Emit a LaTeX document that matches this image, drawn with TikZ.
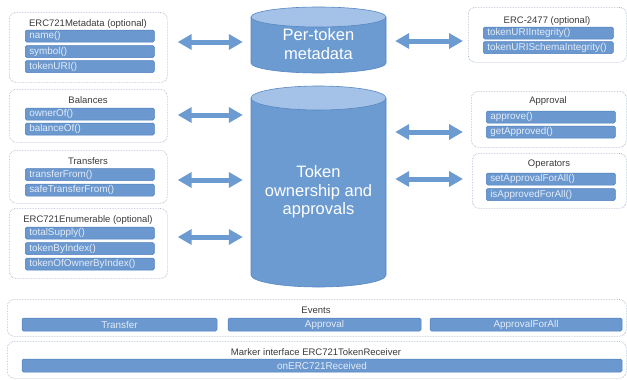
\documentclass[tikz,border=0pt]{standalone}
\usepackage{fontspec}
\setmainfont{Liberation Sans}
\usetikzlibrary{arrows.meta}
\definecolor{barfill}{HTML}{6A98CF}
\definecolor{barline}{HTML}{4E7FBD}
\definecolor{bartext}{HTML}{E4ECF7}
\definecolor{cylbody}{HTML}{6C9BD2}
\definecolor{cyltop}{HTML}{A4C2E8}
\definecolor{cylline}{HTML}{5787C2}
\definecolor{ttltext}{HTML}{3A3A3A}
\definecolor{grpline}{HTML}{9FAFC6}
\definecolor{arrowfill}{HTML}{6B9BD1}
\begin{document}
\begin{tikzpicture}[x=1pt,y=-1pt,
 grp/.style={draw=grpline, line width=0.7pt, dash pattern=on 0.6pt off 1pt, rounded corners=7pt, anchor=north west, inner sep=0pt},
 ttl/.style={font=\fontsize{9.5}{11}\selectfont, text=ttltext, inner sep=0pt},
 bar/.style={draw=barline, fill=barfill, line width=0.5pt, rounded corners=1.5pt, minimum height=12pt, inner ysep=0pt, text=bartext, font=\fontsize{9.9}{11}\selectfont},
 barl/.style={bar, anchor=west, text width=#1, align=left, inner xsep=4pt},
 barc/.style={bar, minimum width=#1, minimum height=13pt, inner xsep=0pt},
 cyltxt/.style={text=white, align=center, font=\fontsize{16.5}{18.5}\selectfont, inner sep=0pt},
 barrow/.style={line width=5pt, draw=arrowfill, {Triangle[length=14pt,width=15pt]}-{Triangle[length=14pt,width=15pt]}},
 ]
\useasboundingbox (0,0) rectangle (627,380);

% ---- left groups ----
\node[grp, minimum width=158pt, minimum height=70pt] (gmeta) at (9,12) {};
\node[ttl] (tmeta) at (88,24) {ERC721Metadata (optional)};
\node[barl=121pt] (bname) at (25,36) {name()};
\node[barl=121pt] (bsymbol) at (25,51.5) {symbol()};
\node[barl=121pt] (buri) at (25,66.5) {tokenURI()};

\node[grp, minimum width=158pt, minimum height=53pt] (gbal) at (9,89) {};
\node[ttl] (tbal) at (88,100) {Balances};
\node[barl=121pt] (bowner) at (25,114) {ownerOf()};
\node[barl=121pt] (bbalance) at (25,129) {balanceOf()};

\node[grp, minimum width=158pt, minimum height=53pt] (gtrans) at (9,150) {};
\node[ttl] (ttrans) at (88,161) {Transfers};
\node[barl=121pt] (btf) at (25,174.5) {transferFrom()};
\node[barl=121pt] (bstf) at (25,190) {safeTransferFrom()};

\node[grp, minimum width=158pt, minimum height=70pt] (genum) at (9,208) {};
\node[ttl] (tenum) at (88,220) {ERC721Enumerable (optional)};
\node[barl=121pt] (bts) at (25,233) {totalSupply()};
\node[barl=121pt] (btbi) at (25,248.5) {tokenByIndex()};
\node[barl=121pt] (btobi) at (25,264) {tokenOfOwnerByIndex()};

% ---- right groups ----
\node[grp, minimum width=158pt, minimum height=55pt] (gerc) at (468,7) {};
\node[ttl] (terc) at (547,21) {ERC-2477 (optional)};
\node[barl=122pt] (bui) at (483,33) {tokenURIIntegrity()};
\node[barl=122pt] (busi) at (483,47.5) {tokenURISchemaIntegrity()};

\node[grp, minimum width=155pt, minimum height=56pt] (gappr) at (471,91) {};
\node[ttl] (tappr) at (548,101) {Approval};
\node[barl=121pt] (bapprove) at (486,117) {approve()};
\node[barl=121pt] (bgetappr) at (486,132) {getApproved()};

\node[grp, minimum width=154pt, minimum height=55pt] (gops) at (472,153) {};
\node[ttl] (tops) at (549,164) {Operators};
\node[barl=121pt] (bsafa) at (486,179) {setApprovalForAll()};
\node[barl=121pt] (biafa) at (486,194.5) {isApprovedForAll()};

% ---- bottom groups ----
\node[grp, minimum width=619pt, minimum height=37pt] (gevents) at (7,299) {};
\node[ttl] (tevents) at (316,310) {Events};
\node[barc=195pt] (etransfer) at (119.5,324.5) {Transfer};
\node[barc=193pt] (eapproval) at (324.5,324.5) {Approval};
\node[barc=192pt] (eapprall) at (526,324.5) {ApprovalForAll};

\node[grp, minimum width=619pt, minimum height=37pt] (gmarker) at (7,341) {};
\node[ttl] (tmarker) at (316,352) {Marker interface ERC721TokenReceiver};
\node[barc=600pt] (brecv) at (322,365.5) {onERC721Received};

% ---- cylinders ----
\fill[cylbody] (251,17) -- (251,63) arc[start angle=180, end angle=0, x radius=67.5, y radius=10] -- (386,17) -- cycle;
\draw[cylline, line width=0.6pt] (251,17) -- (251,63) arc[start angle=180, end angle=0, x radius=67.5, y radius=10] -- (386,17);
\draw[cylline, line width=0.6pt, fill=cyltop] (318.5,17) ellipse [x radius=67.5, y radius=10];
\node[minimum width=135pt, minimum height=66pt, inner sep=0pt] (cyl1) at (318.5,40) {};
\node[cyltxt] (cyl1t) at (318.5,44) {Per-token\\metadata};

\fill[cylbody] (251,98) -- (251,275) arc[start angle=180, end angle=0, x radius=67.5, y radius=12] -- (386,98) -- cycle;
\draw[cylline, line width=0.6pt] (251,98) -- (251,275) arc[start angle=180, end angle=0, x radius=67.5, y radius=12] -- (386,98);
\draw[cylline, line width=0.6pt, fill=cyltop] (318.5,98) ellipse [x radius=67.5, y radius=12];
\node[minimum width=135pt, minimum height=201pt, inner sep=0pt] (cyl2) at (318.5,186.5) {};
\node[cyltxt] (cyl2t) at (318.5,192) {Token\\ownership and\\approvals};

% ---- arrows ----
\draw[barrow, shorten <=10pt, shorten >=8pt] (gmeta.east |- 0,42) -- (cyl1.west |- 0,42);
\draw[barrow, shorten <=10pt, shorten >=8pt] (gbal.east |- 0,115) -- (cyl2.west |- 0,115);
\draw[barrow, shorten <=10pt, shorten >=8pt] (gtrans.east |- 0,180) -- (cyl2.west |- 0,180);
\draw[barrow, shorten <=10pt, shorten >=8pt] (genum.east |- 0,237) -- (cyl2.west |- 0,237);
\draw[barrow, shorten <=9pt, shorten >=5pt] (cyl1.east |- 0,41) -- (gerc.west |- 0,41);
\draw[barrow, shorten <=9pt, shorten >=8pt] (cyl2.east |- 0,132) -- (gappr.west |- 0,132);
\draw[barrow, shorten <=9pt, shorten >=9pt] (cyl2.east |- 0,179) -- (gops.west |- 0,179);
\end{tikzpicture}
\end{document}
